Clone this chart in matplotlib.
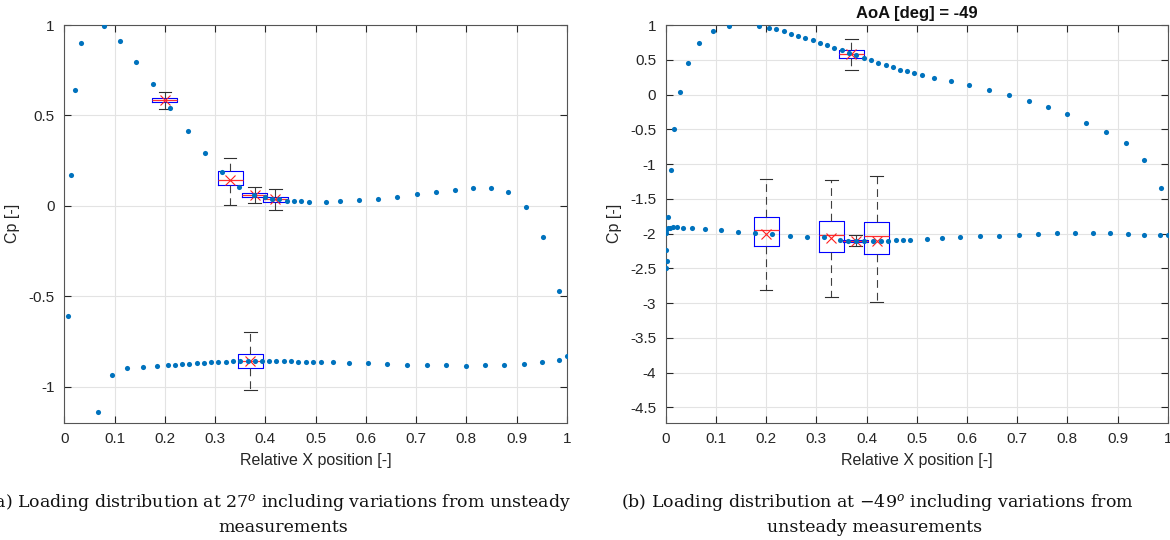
import numpy as np
import matplotlib
matplotlib.use('Agg')
import matplotlib.pyplot as plt

plt.rcParams['font.family'] = ['Liberation Sans', 'DejaVu Sans']
plt.rcParams['axes.unicode_minus'] = False
plt.rcParams['mathtext.fontset'] = 'dejavuserif'

# ---- AoA = 27 deg ----
x27_up = [0.013, 0.021, 0.034, 0.079, 0.110, 0.143, 0.177, 0.211, 0.246, 0.280,
          0.314, 0.347, 0.378, 0.400, 0.413, 0.428, 0.443, 0.457, 0.471, 0.486,
          0.520, 0.549, 0.586, 0.624, 0.663, 0.701, 0.739, 0.777, 0.814, 0.849,
          0.884, 0.918, 0.952, 0.984, 1.000]
cp27_up = [0.170, 0.643, 0.902, 0.993, 0.909, 0.798, 0.672, 0.543, 0.411, 0.291,
           0.187, 0.104, 0.061, 0.046, 0.039, 0.035, 0.028, 0.026, 0.026, 0.022,
           0.022, 0.028, 0.031, 0.039, 0.050, 0.063, 0.074, 0.087, 0.100, 0.100,
           0.074, -0.004, -0.174, -0.470, -0.833]
x27_lo = [0.007, 0.067, 0.095, 0.125, 0.157, 0.185, 0.206, 0.220, 0.235, 0.249,
          0.264, 0.278, 0.292, 0.306, 0.321, 0.335, 0.350, 0.365, 0.379, 0.394,
          0.408, 0.422, 0.437, 0.451, 0.466, 0.480, 0.494, 0.510, 0.534, 0.567,
          0.605, 0.643, 0.682, 0.721, 0.760, 0.799, 0.837, 0.876, 0.914, 0.951,
          0.984]
cp27_lo = [-0.607, -1.139, -0.937, -0.900, -0.890, -0.887, -0.882, -0.878, -0.876, -0.874,
           -0.869, -0.867, -0.865, -0.863, -0.863, -0.859, -0.859, -0.857, -0.857, -0.857,
           -0.857, -0.859, -0.859, -0.859, -0.863, -0.863, -0.863, -0.863, -0.865, -0.867,
           -0.869, -0.874, -0.878, -0.880, -0.883, -0.885, -0.882, -0.880, -0.876, -0.865,
           -0.852]

# unsteady taps: position, whisker low, q1, median, q3, whisker high, mean
box27_pos = [0.200, 0.330, 0.379, 0.420, 0.370]
box27_lo = [0.537, 0.007, 0.013, -0.021, -1.020]
box27_q1 = [0.572, 0.117, 0.046, 0.022, -0.900]
box27_med = [0.585, 0.143, 0.058, 0.035, -0.857]
box27_q3 = [0.598, 0.191, 0.070, 0.048, -0.818]
box27_hi = [0.629, 0.265, 0.106, 0.091, -0.698]
box27_mean = [0.585, 0.145, 0.058, 0.035, -0.857]

# ---- AoA = -49 deg ----
x49_up = [0.005, 0.010, 0.017, 0.029, 0.044, 0.067, 0.095, 0.126, 0.186, 0.206,
          0.220, 0.235, 0.250, 0.264, 0.278, 0.293, 0.307, 0.321, 0.336, 0.351,
          0.365, 0.379, 0.394, 0.408, 0.423, 0.438, 0.452, 0.466, 0.481, 0.495,
          0.511, 0.535, 0.568, 0.605, 0.644, 0.683, 0.723, 0.761, 0.800, 0.838,
          0.877, 0.916, 0.953, 0.986]
cp49_up = [-1.767, -1.083, -0.489, 0.033, 0.454, 0.747, 0.919, 0.991, 0.986, 0.963,
           0.938, 0.909, 0.876, 0.847, 0.813, 0.780, 0.747, 0.708, 0.675, 0.636,
           0.598, 0.565, 0.532, 0.493, 0.460, 0.425, 0.392, 0.359, 0.335, 0.310,
           0.282, 0.244, 0.191, 0.138, 0.066, -0.006, -0.092, -0.182, -0.287, -0.408,
           -0.542, -0.704, -0.944, -1.342]
x49_lo = [0.000, 0.002, 0.000, 0.000, 0.001, 0.004, 0.009, 0.015, 0.022, 0.035,
          0.053, 0.079, 0.111, 0.143, 0.177, 0.212, 0.247, 0.281, 0.315, 0.348,
          0.364, 0.378, 0.394, 0.413, 0.428, 0.443, 0.458, 0.472, 0.487, 0.520,
          0.550, 0.587, 0.625, 0.664, 0.703, 0.741, 0.779, 0.815, 0.851, 0.885,
          0.920, 0.953, 0.985, 1.000]
cp49_lo = [-2.491, -2.395, -2.241, -1.988, -1.950, -1.925, -1.916, -1.911, -1.911, -1.916,
           -1.925, -1.935, -1.954, -1.974, -1.988, -2.007, -2.031, -2.046, -2.055, -2.089,
           -2.103, -2.108, -2.108, -2.103, -2.103, -2.103, -2.098, -2.098, -2.093, -2.079,
           -2.065, -2.055, -2.040, -2.031, -2.017, -2.007, -1.997, -1.993, -1.993, -1.997,
           -2.002, -2.017, -2.017, -2.026]

box49_pos = [0.370, 0.200, 0.330, 0.378, 0.420]
box49_lo = [0.353, -2.816, -2.912, -2.180, -2.989]
box49_q1 = [0.522, -2.184, -2.261, -2.122, -2.295]
box49_med = [0.583, -1.954, -2.017, -2.100, -2.031]
box49_q3 = [0.636, -1.763, -1.816, -2.089, -1.830]
box49_hi = [0.805, -1.217, -1.236, -2.026, -1.169]
box49_mean = [0.583, -2.007, -2.069, -2.110, -2.108]

xticks = np.arange(0, 1.01, 0.1)
xticklabels = ['0', '0.1', '0.2', '0.3', '0.4', '0.5', '0.6', '0.7', '0.8', '0.9', '1']

dot_col = '#0072BD'
ax_col = '#262626'


def fmt(v):
    s = ('%.1f' % v).rstrip('0').rstrip('.')
    return '0' if s in ('-0', '') else s


def draw(ax, xu, cu, xl, cl, pos, lo, q1, med, q3, hi, mean, ylim, yticks):
    stats = []
    for i in range(len(pos)):
        stats.append(dict(whislo=lo[i], q1=q1[i], med=med[i], q3=q3[i],
                          whishi=hi[i], mean=mean[i], fliers=[]))
    ax.bxp(stats, positions=pos, widths=0.05, capwidths=0.025,
           showmeans=True, manage_ticks=False,
           boxprops=dict(color='#0000ff', lw=0.8),
           medianprops=dict(color='#ff3030', lw=0.9),
           whiskerprops=dict(color='#404040', lw=0.8, ls=(0, (7, 4.5))),
           capprops=dict(color='#303030', lw=0.8),
           meanprops=dict(marker='x', markeredgecolor='#ff2020', markersize=6.5,
                          markeredgewidth=0.8))
    ax.plot(xu, cu, 'o', color=dot_col, ms=3.7, mec='none', zorder=4)
    ax.plot(xl, cl, 'o', color=dot_col, ms=3.7, mec='none', zorder=4)
    ax.set_xlim(0, 1)
    ax.set_ylim(*ylim)
    ax.set_xticks(xticks)
    ax.set_xticklabels(xticklabels)
    ax.set_yticks(yticks)
    ax.set_yticklabels([fmt(v) for v in yticks])
    ax.grid(True, color='#e3e3e3', lw=0.8)
    ax.set_axisbelow(True)
    ax.tick_params(direction='in', top=True, right=True, length=5, width=0.8,
                   colors=ax_col, labelsize=11, pad=7)
    for sp in ax.spines.values():
        sp.set_color('#555555')
        sp.set_linewidth(0.8)
    ax.set_xlabel('Relative X position [-]', fontsize=11.5, color=ax_col, labelpad=5)
    ax.set_ylabel('Cp [-]', fontsize=11.5, color=ax_col, labelpad=6)


fig = plt.figure(figsize=(11.7, 5.4), dpi=100)
ax1 = fig.add_axes([0.055, 0.2172, 0.4294, 0.7365])
ax2 = fig.add_axes([0.569, 0.2172, 0.4291, 0.7365])

draw(ax1, x27_up, cp27_up, x27_lo, cp27_lo, box27_pos, box27_lo, box27_q1,
     box27_med, box27_q3, box27_hi, box27_mean, (-1.2, 1), [-1, -0.5, 0, 0.5, 1])
draw(ax2, x49_up, cp49_up, x49_lo, cp49_lo, box49_pos, box49_lo, box49_q1,
     box49_med, box49_q3, box49_hi, box49_mean, (-4.72, 1),
     [-4.5, -4, -3.5, -3, -2.5, -2, -1.5, -1, -0.5, 0, 0.5, 1])
ax2.set_title('AoA [deg] = -49', fontsize=12, fontweight='bold', color='#111111', pad=5)

cap = dict(family='DejaVu Serif', fontsize=12.5, ha='center', va='center', color='#111111')
fig.text(279 / 1170, 1 - 503 / 540,
         r'(a) Loading distribution at 27$^{o}$ including variations from unsteady', **cap)
fig.text(283 / 1170, 1 - 527 / 540, 'measurements', **cap)
fig.text(877 / 1170, 1 - 503 / 540,
         r'(b) Loading distribution at $-$49$^{o}$ including variations from', **cap)
fig.text(875 / 1170, 1 - 527 / 540, 'unsteady measurements', **cap)

fig.savefig('out.png', dpi=100)
